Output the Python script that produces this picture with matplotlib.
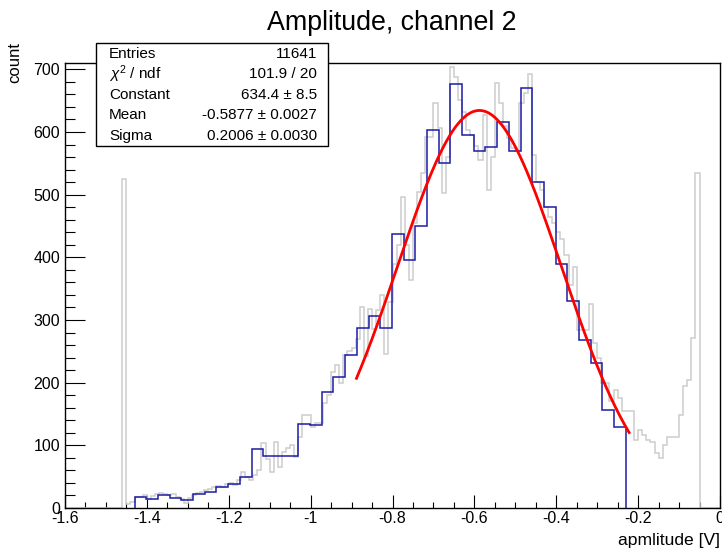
import matplotlib
matplotlib.use('Agg')
import matplotlib.pyplot as plt
import numpy as np
from matplotlib.ticker import MultipleLocator, FuncFormatter
from matplotlib.patches import Rectangle

# ---------------- data ----------------
title = "Amplitude, channel 2"
x_title = "apmlitude [V]"
y_title = "count"

# grey (fine binned) histogram: 160 bins over [-1.6, 0]
grey_range = (-1.6, 0.0)
grey_counts = [0] * 14 + [525] + [
    6, 10, 17, 18, 20, 15, 19, 22, 24, 22, 20, 22, 18, 14, 8,
    16, 20, 24, 26, 28, 30, 33, 35, 34, 38, 40, 36, 45, 58, 49,
    45, 52, 60, 103, 78, 58, 106, 66, 90, 95, 100, 82, 114, 148, 148,
] + [
    130, 135, 135, 167, 180, 217, 228, 200, 244, 250,
    255, 270, 320, 242, 317, 285, 316, 340, 246, 328,
    390, 420, 497, 420, 364, 455, 505, 534, 592, 592,
    647, 606, 503, 560, 704, 687, 651, 632, 603, 595,
    578, 556, 627, 507, 560, 679, 647, 610, 591, 575,
    570, 646, 662, 693, 563, 521, 508, 481, 465, 455,
    440,
] + [
    430, 404, 356, 385, 284, 284, 284, 325, 263, 240,
    199, 199, 170, 188, 176, 154, 154, 154, 108, 125,
    116, 108, 106, 87, 79, 100, 114, 114, 114, 148,
    195, 205, 271, 535,
] + [0] * 5

# blue (fitted) histogram: 42 bins over [-1.43, -0.23]
blue_range = (-1.43, -0.23)
blue_counts = [
    18, 14, 20, 16, 12, 22, 26, 33, 38, 49,
    94, 83, 83, 83, 134, 133, 185, 209, 244, 288,
    307, 288, 438, 396, 450, 604, 551, 677, 595, 570,
    576, 616, 570, 670, 521, 480, 389, 331, 268, 231,
    156, 129,
]

# gaussian fit
fit_constant = 634.4
fit_mean = -0.5877
fit_sigma = 0.2006
fit_range = (-0.888, -0.222)

stats_labels = ["Entries", r"$\chi^{2}$ / ndf", "Constant", "Mean", "Sigma"]
stats_values = ["11641", "101.9 / 20", "634.4 \u00b1 8.5",
                "-0.5877 \u00b1 0.0027", "0.2006 \u00b1 0.0030"]

# ---------------- plotting ----------------
plt.rcParams['font.family'] = ['Liberation Sans', 'DejaVu Sans']
plt.rcParams['mathtext.fontset'] = 'custom'
plt.rcParams['mathtext.rm'] = 'Liberation Sans'
plt.rcParams['mathtext.it'] = 'Liberation Sans:italic'

W, H = 722, 550
fig = plt.figure(figsize=(W / 100, H / 100), dpi=100)
L, R, B, T = 65, 720, 508, 62.7
ax = fig.add_axes([L / W, 1 - B / H, (R - L) / W, (B - T) / H])

grey_edges = np.linspace(grey_range[0], grey_range[1], len(grey_counts) + 1)
blue_edges = np.linspace(blue_range[0], blue_range[1], len(blue_counts) + 1)

ax.stairs(grey_counts, grey_edges, color='#cdcdcd', lw=1.1, baseline=0, zorder=2)
ax.stairs(blue_counts, blue_edges, color='#1c1ca4', lw=1.1, baseline=0, zorder=3)

xf = np.linspace(fit_range[0], fit_range[1], 300)
yf = fit_constant * np.exp(-0.5 * ((xf - fit_mean) / fit_sigma) ** 2)
ax.plot(xf, yf, color='red', lw=2.0, zorder=4)

ax.set_xlim(-1.6, 0.0)
ax.set_ylim(0, 710.6)

ax.xaxis.set_major_locator(MultipleLocator(0.2))
ax.xaxis.set_minor_locator(MultipleLocator(0.05))
ax.yaxis.set_major_locator(MultipleLocator(100))
ax.yaxis.set_minor_locator(MultipleLocator(20))


def fmt(v, pos):
    v = round(v, 3)
    if abs(v) < 1e-9:
        return "0"
    return f"{v:g}"


ax.xaxis.set_major_formatter(FuncFormatter(fmt))
ax.yaxis.set_major_formatter(FuncFormatter(fmt))

ax.tick_params(which='both', direction='in', top=False, right=False, color='black')
ax.tick_params(axis='x', which='major', length=9.4, width=0.8, labelsize=11.5, pad=2)
ax.tick_params(axis='x', which='minor', length=4.5, width=0.8)
ax.tick_params(axis='y', which='major', length=14.4, width=0.8, labelsize=11.5, pad=3.5)
ax.tick_params(axis='y', which='minor', length=7.2, width=0.8)
for s in ax.spines.values():
    s.set_linewidth(1.0)
    s.set_color('black')

# titles
fig.text(391.7 / W, 1 - 23 / H, title, ha='center', va='center', fontsize=19.3)
fig.text(720 / W, 1 - 540 / H, x_title, ha='right', va='center', fontsize=12.6)
fig.text(15 / W, 1 - 42 / H, y_title, ha='center', va='top', rotation=90, fontsize=12)

# stats box
bx0, bx1, by0, by1 = 96, 328, 43.3, 146
fig.add_artist(Rectangle((bx0 / W, 1 - by1 / H), (bx1 - bx0) / W, (by1 - by0) / H,
                         transform=fig.transFigure, facecolor='white',
                         edgecolor='black', lw=1.0, zorder=10))
rowh = (by1 - by0) / len(stats_labels)
for i, (lab, val) in enumerate(zip(stats_labels, stats_values)):
    yc = by0 + (i + 0.5) * rowh
    fig.text(109 / W, 1 - yc / H, lab, ha='left', va='center', fontsize=11, zorder=11)
    fig.text(317 / W, 1 - yc / H, val, ha='right', va='center', fontsize=11, zorder=11)

fig.savefig('out.png', dpi=100)
